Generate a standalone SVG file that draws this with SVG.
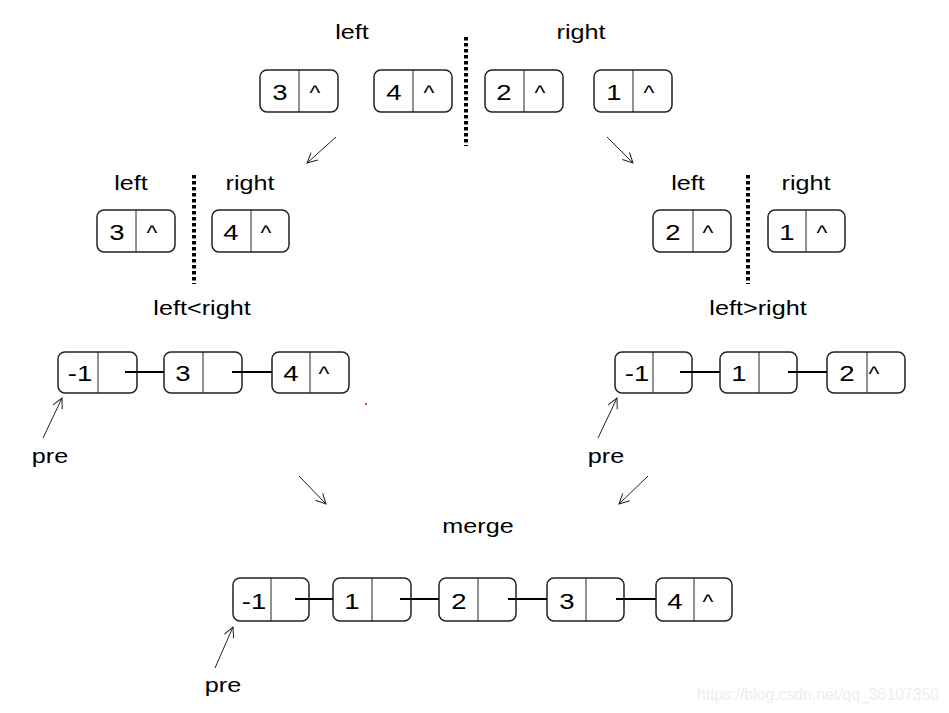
<svg xmlns="http://www.w3.org/2000/svg" width="949" height="713" viewBox="0 0 949 713">
<style>
.box{fill:#fff;stroke:#222;stroke-width:1.5}
.div{stroke:#222;stroke-width:1}
.t{font-family:"Liberation Sans",Arial,sans-serif;font-size:21px;fill:#000;text-anchor:middle}
.d{font-family:"Liberation Sans",Arial,sans-serif;font-size:22px;fill:#000;text-anchor:middle}
.link{stroke:#000;stroke-width:2;fill:none}
.arr{stroke:#222;stroke-width:1;fill:none;marker-end:url(#ah)}
.dot{stroke:#000;stroke-width:4;stroke-dasharray:3.5 2.5;fill:none}
</style>
<defs>
<marker id="ah" viewBox="0 0 12 12" refX="11" refY="6" markerWidth="12" markerHeight="12" markerUnits="userSpaceOnUse" orient="auto">
<path d="M1,1 L11,6 L1,11" fill="none" stroke="#222" stroke-width="1"/>
</marker>
</defs>
<rect width="949" height="713" fill="#fff"/>

<!-- labels -->
<g id="labels">
<text class="t" transform="translate(352,39) scale(1.2,1)">left</text>
<text class="t" transform="translate(581,39) scale(1.2,1)">right</text>
<text class="t" transform="translate(131,190) scale(1.2,1)">left</text>
<text class="t" transform="translate(250,190) scale(1.2,1)">right</text>
<text class="t" transform="translate(688,190) scale(1.2,1)">left</text>
<text class="t" transform="translate(806,190) scale(1.2,1)">right</text>
<text class="t" transform="translate(202,315) scale(1.2,1)">left&lt;right</text>
<text class="t" transform="translate(758,315) scale(1.2,1)">left&gt;right</text>
<text class="t" transform="translate(50,463) scale(1.2,1)">pre</text>
<text class="t" transform="translate(606,463) scale(1.2,1)">pre</text>
<text class="t" transform="translate(478,533) scale(1.2,1)">merge</text>
<text class="t" transform="translate(223,692) scale(1.2,1)">pre</text>
</g>

<!-- dotted separators -->
<g id="separators">
<line class="dot" x1="466" y1="37" x2="466" y2="146"/>
<line class="dot" x1="194" y1="175" x2="194" y2="284"/>
<line class="dot" x1="748" y1="175" x2="748" y2="284"/>
</g>

<!-- top row -->
<g id="top3"><rect class="box" x="260" y="70" width="78" height="42" rx="7"/><line class="div" x1="299" y1="70" x2="299" y2="112"/><text class="d" transform="translate(280,100) scale(1.25,1)">3</text><text class="t" transform="translate(315,100) scale(1.1,1)">^</text></g>
<g id="top4"><rect class="box" x="374" y="70" width="78" height="42" rx="7"/><line class="div" x1="413" y1="70" x2="413" y2="112"/><text class="d" transform="translate(394,100) scale(1.25,1)">4</text><text class="t" transform="translate(429,100) scale(1.1,1)">^</text></g>
<g id="top2"><rect class="box" x="485" y="70" width="78" height="42" rx="7"/><line class="div" x1="524" y1="70" x2="524" y2="112"/><text class="d" transform="translate(504,100) scale(1.25,1)">2</text><text class="t" transform="translate(540,100) scale(1.1,1)">^</text></g>
<g id="top1"><rect class="box" x="594" y="70" width="78" height="42" rx="7"/><line class="div" x1="633" y1="70" x2="633" y2="112"/><text class="d" transform="translate(614,100) scale(1.25,1)">1</text><text class="t" transform="translate(649,100) scale(1.1,1)">^</text></g>

<!-- second row -->
<g id="l3"><rect class="box" x="97" y="210" width="78" height="42" rx="7"/><line class="div" x1="136" y1="210" x2="136" y2="252"/><text class="d" transform="translate(117,240) scale(1.25,1)">3</text><text class="t" transform="translate(152,240) scale(1.1,1)">^</text></g>
<g id="l4"><rect class="box" x="212" y="210" width="77" height="42" rx="7"/><line class="div" x1="251" y1="210" x2="251" y2="252"/><text class="d" transform="translate(231,240) scale(1.25,1)">4</text><text class="t" transform="translate(266,240) scale(1.1,1)">^</text></g>
<g id="r2"><rect class="box" x="653" y="210" width="78" height="42" rx="7"/><line class="div" x1="693" y1="210" x2="693" y2="252"/><text class="d" transform="translate(673,240) scale(1.25,1)">2</text><text class="t" transform="translate(708,240) scale(1.1,1)">^</text></g>
<g id="r1"><rect class="box" x="768" y="210" width="77" height="42" rx="7"/><line class="div" x1="806" y1="210" x2="806" y2="252"/><text class="d" transform="translate(787,240) scale(1.25,1)">1</text><text class="t" transform="translate(822,240) scale(1.1,1)">^</text></g>

<!-- third row left -->
<g id="a-1"><rect class="box" x="58" y="352" width="79" height="41" rx="7"/><line class="div" x1="98" y1="352" x2="98" y2="393"/><text class="d" transform="translate(80,381) scale(1.25,1)">-1</text></g>
<g id="a3"><rect class="box" x="164" y="352" width="78" height="41" rx="7"/><line class="div" x1="203" y1="352" x2="203" y2="393"/><text class="d" transform="translate(183,381) scale(1.25,1)">3</text></g>
<g id="a4"><rect class="box" x="272" y="352" width="77" height="41" rx="7"/><line class="div" x1="310" y1="352" x2="310" y2="393"/><text class="d" transform="translate(291,381) scale(1.25,1)">4</text><text class="t" transform="translate(324,381) scale(1.1,1)">^</text></g>

<!-- third row right -->
<g id="b-1"><rect class="box" x="615" y="352" width="77" height="41" rx="7"/><line class="div" x1="653" y1="352" x2="653" y2="393"/><text class="d" transform="translate(637,381) scale(1.25,1)">-1</text></g>
<g id="b1"><rect class="box" x="720" y="352" width="77" height="41" rx="7"/><line class="div" x1="759" y1="352" x2="759" y2="393"/><text class="d" transform="translate(739,381) scale(1.25,1)">1</text></g>
<g id="b2"><rect class="box" x="827" y="352" width="78" height="41" rx="7"/><line class="div" x1="867" y1="352" x2="867" y2="393"/><text class="d" transform="translate(847,381) scale(1.25,1)">2</text><text class="t" transform="translate(874,381) scale(1.1,1)">^</text></g>

<!-- merged row -->
<g id="m-1"><rect class="box" x="233" y="578" width="76" height="43" rx="7"/><line class="div" x1="271" y1="578" x2="271" y2="621"/><text class="d" transform="translate(254,609) scale(1.25,1)">-1</text></g>
<g id="m1"><rect class="box" x="333" y="578" width="78" height="43" rx="7"/><line class="div" x1="372" y1="578" x2="372" y2="621"/><text class="d" transform="translate(352,609) scale(1.25,1)">1</text></g>
<g id="m2"><rect class="box" x="439" y="578" width="77" height="43" rx="7"/><line class="div" x1="478" y1="578" x2="478" y2="621"/><text class="d" transform="translate(459,609) scale(1.25,1)">2</text></g>
<g id="m3"><rect class="box" x="547" y="578" width="77" height="43" rx="7"/><line class="div" x1="586" y1="578" x2="586" y2="621"/><text class="d" transform="translate(567,609) scale(1.25,1)">3</text></g>
<g id="m4"><rect class="box" x="656" y="578" width="76" height="43" rx="7"/><line class="div" x1="694" y1="578" x2="694" y2="621"/><text class="d" transform="translate(675,609) scale(1.25,1)">4</text><text class="t" transform="translate(708,609) scale(1.1,1)">^</text></g>

<!-- connectors -->
<g id="connectors">
<line class="link" x1="125" y1="372" x2="164" y2="372"/>
<line class="link" x1="232" y1="372" x2="272" y2="372"/>
<line class="link" x1="680" y1="372" x2="720" y2="372"/>
<line class="link" x1="788" y1="372" x2="827" y2="372"/>
<line class="link" x1="295" y1="599" x2="333" y2="599"/>
<line class="link" x1="400" y1="599" x2="439" y2="599"/>
<line class="link" x1="508" y1="599" x2="547" y2="599"/>
<line class="link" x1="616" y1="599" x2="656" y2="599"/>
<line class="arr" x1="336" y1="137" x2="307" y2="163"/>
<line class="arr" x1="607" y1="137" x2="633" y2="163"/>
<line class="arr" x1="43" y1="438" x2="62" y2="398"/>
<line class="arr" x1="598" y1="438" x2="617" y2="398"/>
<line class="arr" x1="215" y1="668" x2="233" y2="627"/>
<line class="arr" x1="299" y1="476" x2="326" y2="504"/>
<line class="arr" x1="648" y1="476" x2="619" y2="504"/>
</g>

<circle cx="366" cy="404" r="1" fill="#e00"/>
<text x="697" y="700" font-family="Liberation Sans,Arial,sans-serif" font-size="16" fill="#eeeeee" textLength="242" lengthAdjust="spacingAndGlyphs">https://blog.csdn.net/qq_36107350</text>
</svg>
